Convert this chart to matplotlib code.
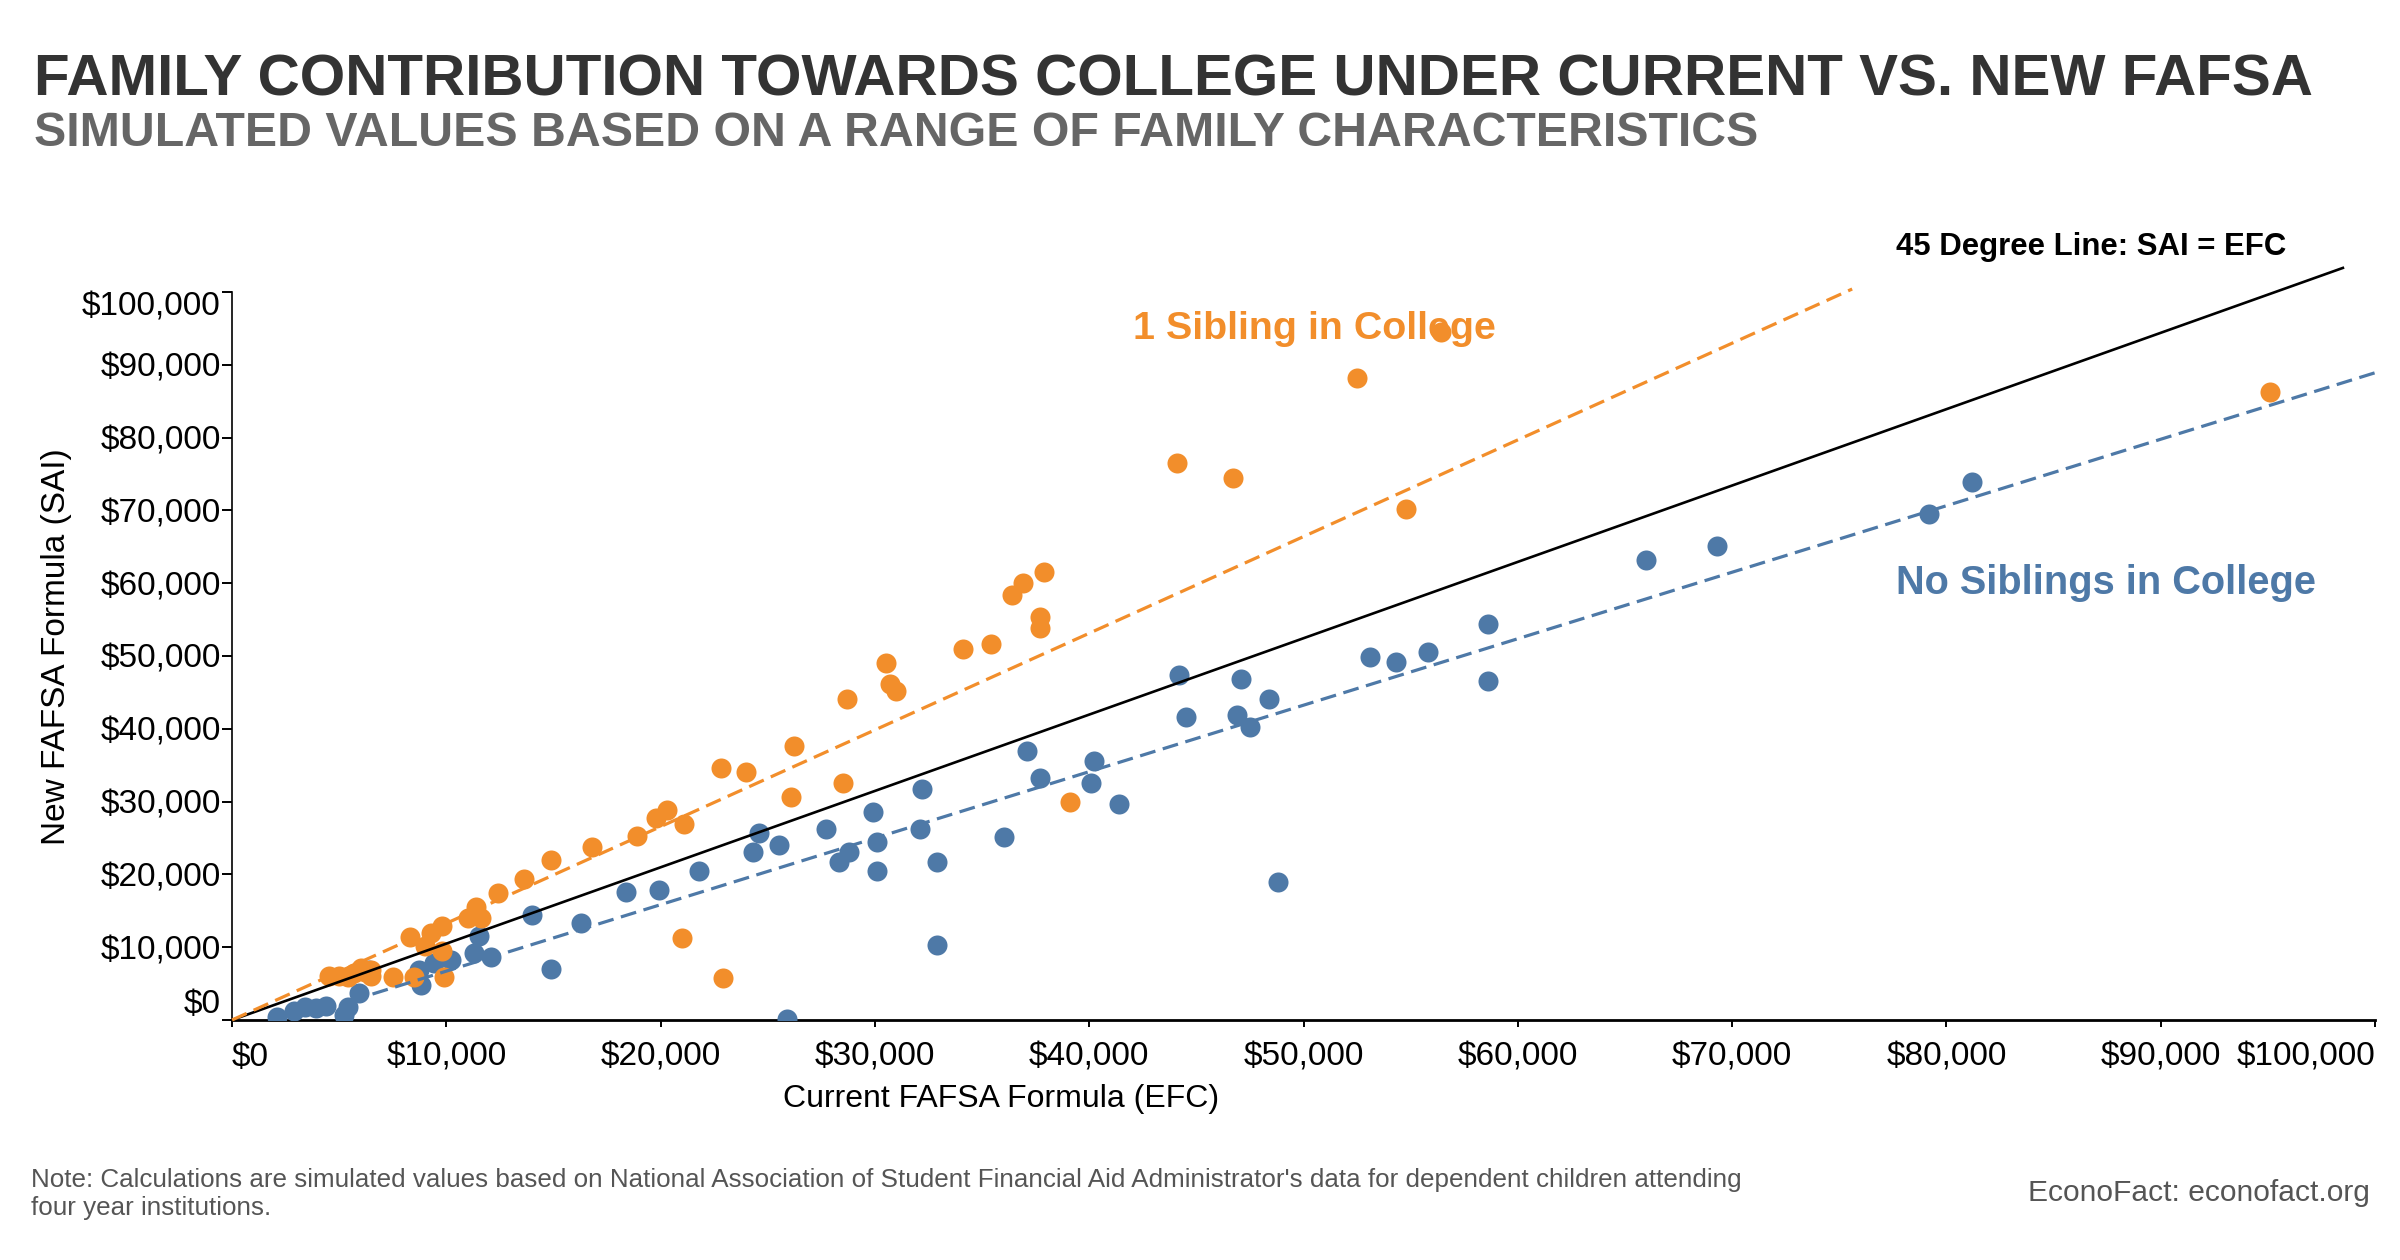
import matplotlib
matplotlib.use("Agg")
import matplotlib.pyplot as plt
import numpy as np

plt.rcParams['font.family'] = ['Liberation Sans', 'DejaVu Sans']

BLUE = '#4E79A7'
ORANGE = '#F28E2B'

# current formula (EFC) vs new formula (SAI), in thousands of dollars
no_sib_efc = [2.1, 2.9, 3.4, 3.9, 4.4, 5.2, 5.4, 5.9, 6.4,
              8.7, 8.8, 9.4, 10.2, 11.3, 11.5, 12.1, 14.0, 14.9,
              16.3, 18.4, 19.9, 21.8, 24.3, 24.6, 25.5, 25.9,
              27.7, 28.3, 28.8, 29.9, 30.1, 30.1, 32.1, 32.2, 32.9, 32.9,
              36.0, 37.1, 37.7, 40.2, 40.1, 41.4,
              44.2, 44.5, 47.1, 46.9, 47.5, 48.4, 48.8,
              53.1, 54.3, 55.8, 58.6, 58.6,
              66.0, 69.3, 79.2, 81.2]
no_sib_sai = [0.4, 1.2, 1.8, 1.6, 1.9, 0.7, 1.8, 3.7, 6.8,
              6.9, 4.8, 7.8, 8.3, 9.2, 11.6, 8.6, 14.4, 7.0,
              13.3, 17.6, 17.9, 20.4, 23.1, 25.7, 24.0, 0.2,
              26.2, 21.7, 23.1, 28.6, 24.5, 20.4, 26.2, 31.7, 21.7, 10.3,
              25.1, 36.9, 33.3, 35.6, 32.5, 29.7,
              47.4, 41.6, 46.8, 41.9, 40.2, 44.1, 19.0,
              49.8, 49.2, 50.6, 54.4, 46.5,
              63.2, 65.1, 69.5, 73.9]

one_sib_efc = [4.5, 5.0, 5.4, 5.7, 6.0, 6.2, 6.5, 6.5,
               7.5, 8.3, 8.5, 9.0, 9.3, 9.8, 9.8, 9.9,
               11.0, 11.4, 11.6, 12.4, 13.6, 14.9, 16.8, 18.9,
               19.8, 20.3, 21.1, 21.0, 22.8, 22.9, 24.0, 26.1, 26.2,
               28.5, 28.7, 30.5, 30.7, 31.0,
               34.1, 35.4, 36.4, 36.9, 37.9, 37.7, 37.7, 39.1,
               44.1, 46.7, 52.5, 54.8, 56.4, 95.1]
one_sib_sai = [6.0, 6.1, 5.9, 6.4, 7.2, 6.6, 6.0, 6.9,
               5.95, 11.4, 5.95, 10.2, 12.0, 12.9, 9.5, 5.9,
               14.0, 15.5, 14.0, 17.4, 19.4, 22.0, 23.7, 25.3,
               27.8, 28.9, 26.9, 11.3, 34.6, 5.8, 34.1, 30.6, 37.6,
               32.5, 44.1, 49.0, 46.2, 45.2,
               50.9, 51.7, 58.4, 60.0, 61.6, 55.3, 53.9, 30.0,
               76.5, 74.5, 88.2, 70.2, 94.5, 86.3]

# fitted lines and the SAI = EFC line, endpoints in thousands
no_sib_fit_x = [5.5, 100.0]
no_sib_fit_y = [2.6, 88.9]
one_sib_fit_x = [0.0, 75.6]
one_sib_fit_y = [0.0, 100.4]
equal_x = [0.0, 98.5]
equal_y = [0.0, 103.3]

tick_values = list(range(0, 100001, 10000))
tick_labels = ['$0', '$10,000', '$20,000', '$30,000', '$40,000', '$50,000',
               '$60,000', '$70,000', '$80,000', '$90,000', '$100,000']

k = 1000
fig = plt.figure(figsize=(12, 6.3), dpi=200)
ax = fig.add_axes([0.0967, 0.1905, 0.8929, 0.5778])

ax.scatter(np.array(no_sib_efc) * k, np.array(no_sib_sai) * k, s=52,
           color=BLUE, linewidths=0, zorder=3)
ax.scatter(np.array(one_sib_efc) * k, np.array(one_sib_sai) * k, s=52,
           color=ORANGE, linewidths=0, zorder=3)

ax.plot(np.array(equal_x) * k, np.array(equal_y) * k, color='black',
        lw=0.95, clip_on=False, zorder=4)
ax.plot(np.array(one_sib_fit_x) * k, np.array(one_sib_fit_y) * k, color=ORANGE,
        lw=1.15, ls=(0, (5, 2.4)), clip_on=False, zorder=4)
ax.plot(np.array(no_sib_fit_x) * k, np.array(no_sib_fit_y) * k, color=BLUE,
        lw=1.15, ls=(0, (5, 2.4)), clip_on=False, zorder=4)

ax.set_xlim(0, 100000)
ax.set_ylim(0, 100000)
ax.set_xticks(tick_values)
ax.set_xticklabels(tick_labels)
ax.set_yticks(tick_values)
ax.set_yticklabels(tick_labels)
ax.get_xticklabels()[0].set_ha('left')
ax.get_xticklabels()[-1].set_ha('right')
ax.get_yticklabels()[0].set_va('bottom')
ax.get_yticklabels()[-1].set_va('top')

ax.tick_params(axis='x', length=2.6, width=0.7, pad=5.3, labelsize=12)
ax.tick_params(axis='y', length=3.6, width=0.7, pad=0.5, labelsize=12)
for side in ['top', 'right']:
    ax.spines[side].set_visible(False)
ax.spines['left'].set_linewidth(0.6)
ax.spines['bottom'].set_linewidth(1.0)

ax.text(50.5 * k, 94.9 * k, '1 Sibling in College', color=ORANGE,
        fontsize=14.2, fontweight='bold', ha='center', va='center', zorder=2)
ax.text(77.65 * k, 60.0 * k, 'No Siblings in College', color=BLUE,
        fontsize=14.3, fontweight='bold', ha='left', va='center', zorder=2)
ax.text(77.65 * k, 106.2 * k, '45 Degree Line: SAI = EFC', color='black',
        fontsize=11.2, fontweight='bold', ha='left', va='center')

fig.text(0.0237, 0.487, 'New FAFSA Formula (SAI)', rotation=90,
         ha='center', va='center', fontsize=12)
fig.text(0.417, 0.128, 'Current FAFSA Formula (EFC)',
         ha='center', va='center', fontsize=11.5)

fig.text(0.0142, 0.9246, 'FAMILY CONTRIBUTION TOWARDS COLLEGE UNDER CURRENT VS. NEW FAFSA',
         color='#333333', fontsize=21, fontweight='bold', va='baseline')
fig.text(0.0142, 0.8843, 'SIMULATED VALUES BASED ON A RANGE OF FAMILY CHARACTERISTICS',
         color='#666666', fontsize=17.4, fontweight='bold', va='baseline')

fig.text(0.013, 0.0733,
         "Note: Calculations are simulated values based on National Association of Student "
         "Financial Aid Administrator's data for dependent children attending\nfour year institutions.",
         color='#555555', fontsize=9.35, va='top', linespacing=1.25)
fig.text(0.9875, 0.0535, 'EconoFact: econofact.org', color='#555555',
         fontsize=10.8, ha='right', va='center')

fig.savefig('out.png', dpi=200)
